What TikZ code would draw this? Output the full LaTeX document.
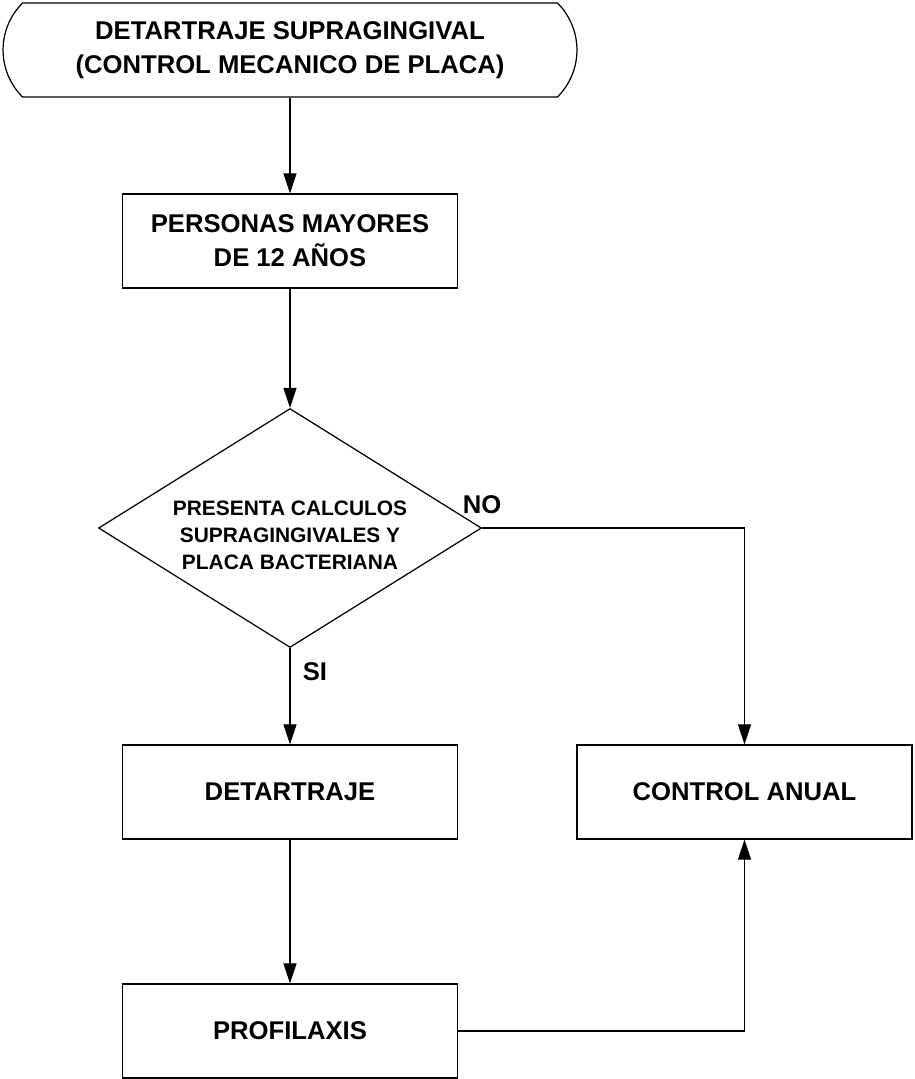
\documentclass[tikz,border=0pt]{standalone}
\usepackage{fontspec}
\setmainfont{Liberation Sans}
\usetikzlibrary{shapes.geometric,shapes.misc,arrows.meta,positioning}

\begin{document}
\begin{tikzpicture}[x=0.02cm,y=-0.02cm,
font=\bfseries\fontsize{14.6}{19.5}\selectfont,
every node/.style={align=center},
caja/.style={draw,rectangle,inner sep=0pt,minimum width=6.7cm,minimum height=1.88cm},
terminal/.style={draw,rounded rectangle,rounded rectangle arc length=90,inner sep=0pt,minimum width=11.48cm,minimum height=1.88cm},
decision/.style={draw,diamond,aspect=1.6,inner xsep=0pt,inner ysep=-6pt,minimum width=7.66cm,minimum height=4.78cm,font=\bfseries\fontsize{11.9}{15.4}\selectfont},
etiqueta/.style={inner sep=0pt},
flecha/.style={-{Triangle[length=11.4pt,width=7.4pt]}},
every path/.style={line width=0.7pt}]
\useasboundingbox (0,0) rectangle (914,1079);

\node[terminal] (inicio) at (290,50) {DETARTRAJE SUPRAGINGIVAL\\(CONTROL MECANICO DE PLACA)};
\node[caja] (personas) at (290,241) {PERSONAS MAYORES\\DE 12 AÑOS};
\node[decision] (presenta) at (290,528) {\raisebox{0pt}[\dimexpr\height+10pt\relax]{\begin{tabular}{@{}c@{}}PRESENTA CALCULOS\\SUPRAGINGIVALES Y\\PLACA BACTERIANA\end{tabular}}};
\node[caja] (detartraje) at (290,792) {DETARTRAJE};
\node[caja] (control) at (744.5,792) {CONTROL ANUAL};
\node[caja] (profilaxis) at (290,1031) {PROFILAXIS};
\node[etiqueta] (no) at (482,505) {NO};
\node[etiqueta] (si) at (315,672) {SI};

\draw[flecha] (inicio.south) -- (personas.north);
\draw[flecha] (personas.south) -- (presenta.north);
\draw[flecha] (presenta.east) -| (control.north);
\draw[flecha] (presenta.south) -- (detartraje.north);
\draw[flecha] (detartraje.south) -- (profilaxis.north);
\draw[flecha] (profilaxis.east) -| (control.south);
\end{tikzpicture}
\end{document}
